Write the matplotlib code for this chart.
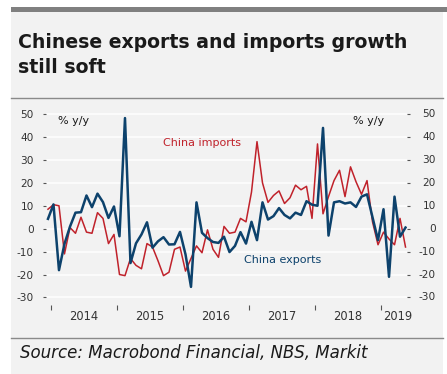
import numpy as np
import matplotlib
matplotlib.use("Agg")
import matplotlib.pyplot as plt
import matplotlib.transforms as mtransforms
from matplotlib.patches import Rectangle
from matplotlib.lines import Line2D

plt.rcParams["axes.unicode_minus"] = False

# monthly y/y growth, Dec 2013 .. May 2019
exports = [4.3,
           10.6, -18.1, -6.6, 0.9, 7.0, 7.2, 14.5, 9.4, 15.3, 11.6, 4.7, 9.7,
           -3.3, 48.3, -15.0, -6.4, -2.5, 2.8, -8.3, -5.5, -3.7, -6.9, -6.8, -1.4,
           -11.2, -25.4, 11.5, -1.8, -4.1, -5.8, -6.2, -3.5, -10.2, -7.5, -1.5, -6.5,
           3.0, -5.0, 11.5, 4.0, 5.5, 9.0, 6.0, 4.5, 7.0, 6.0, 12.0, 10.5,
           10.0, 44.0, -3.0, 11.5, 12.0, 11.0, 11.5, 9.5, 14.0, 15.0, 5.0, -5.0,
           8.5, -21.0, 14.0, -3.5, 0.5]
imports = [8.5,
           10.5, 10.0, -11.0, 0.5, -2.0, 5.0, -1.5, -2.0, 7.0, 4.5, -6.5, -2.5,
           -20.0, -20.5, -13.0, -16.0, -17.5, -6.5, -8.0, -14.0, -20.5, -19.0, -9.0, -8.0,
           -18.5, -13.0, -7.5, -10.5, -0.5, -9.0, -12.5, 1.0, -2.0, -1.5, 4.5, 3.0,
           16.0, 38.0, 20.0, 11.5, 14.5, 16.5, 11.0, 13.5, 19.0, 17.0, 18.5, 4.5,
           37.0, 6.5, 14.0, 21.0, 25.5, 14.0, 27.0, 20.5, 15.0, 21.0, 3.0, -7.0,
           -1.5, -4.5, -7.0, 4.5, -8.0]
years = [2014, 2015, 2016, 2017, 2018, 2019]
yticks = [-30, -20, -10, 0, 10, 20, 30, 40, 50]

# x in months since Jan 2014, points at mid-month
x = np.arange(len(exports)) - 1 + 0.5

W, H = 447, 374
fig = plt.figure(figsize=(W / 100, H / 100), dpi=100)
fig.patch.set_facecolor("white")

def fx(px):
    return px / W

def fy(py):
    return 1 - py / H

# panel background, top bar, separators
fig.patches.append(Rectangle((fx(11), 0), fx(443) - fx(11), fy(12), transform=fig.transFigure,
                             facecolor="#f2f2f2", edgecolor="none", zorder=-2))
fig.patches.append(Rectangle((fx(11), fy(12)), fx(447) - fx(11), fy(7) - fy(12), transform=fig.transFigure,
                             facecolor="#808080", edgecolor="none", zorder=-1))
for yy in (97.5, 337.5):
    fig.lines.append(Line2D([fx(11), fx(443)], [fy(yy), fy(yy)], transform=fig.transFigure,
                            color="#8a8a8a", linewidth=1.0, zorder=-1))

fig.text(fx(18), fy(48), "Chinese exports and imports growth", fontsize=13.6,
         fontweight="bold", color="#1a1a1a", va="baseline")
fig.text(fx(18), fy(73), "still soft", fontsize=13.6,
         fontweight="bold", color="#1a1a1a", va="baseline")
fig.text(fx(20), fy(353), "Source: Macrobond Financial, NBS, Markit", fontsize=12,
         style="italic", color="#1a1a1a", va="center")

ax = fig.add_axes([fx(46), fy(302), fx(407) - fx(46), fy(105) - fy(302)])
ax.set_facecolor("#f2f2f2")
for s in ax.spines.values():
    s.set_visible(False)

ax.set_ylim(-32, 54)
ax.set_xlim(-0.86, 64.77)
ax.set_yticks(yticks)
ax.yaxis.grid(True, color="white", linewidth=1.1)
ax.set_axisbelow(True)

ax.plot(x, imports, color="#c0222b", linewidth=1.1, zorder=3)
ax.plot(x, exports, color="#0d426c", linewidth=1.8, zorder=4)

# y ticks: dashes on both sides, labels on the left via the axis
ax.tick_params(axis="y", left=True, right=True, labelleft=True, labelright=False,
               length=2.2, width=0.8, color="#555555", pad=6.5,
               labelsize=7.6, labelcolor="#333333")
# right-hand labels right-aligned near the panel edge
right_tr = mtransforms.blended_transform_factory(fig.transFigure, ax.transData)
for v in yticks:
    ax.text(fx(436), v, str(v), transform=right_tr, ha="right", va="center",
            fontsize=7.6, color="#333333")

# x axis: year boundary ticks, labels centred in each year
ax.spines["bottom"].set_position(("outward", 2))
xt = [12 * i for i in range(len(years))]
ax.set_xticks(xt)
ax.set_xticklabels([])
ax.tick_params(axis="x", which="major", length=3.5, width=0.8, color="#555555")
centers = [12 * i + 6 for i in range(len(years) - 1)] + [63]
ax.set_xticks(centers, minor=True)
ax.set_xticklabels([str(y) for y in years], minor=True)
ax.tick_params(axis="x", which="minor", length=0, pad=4, labelsize=8.3, labelcolor="#333333")

ax.text(fx(58), fy(121), "% y/y", transform=fig.transFigure, fontsize=8, color="#1a1a1a", va="center")
ax.text(fx(353), fy(121), "% y/y", transform=fig.transFigure, fontsize=8, color="#1a1a1a", va="center")
ax.text(fx(163), fy(143), "China imports", transform=fig.transFigure, fontsize=8, color="#c0222b", va="center")
ax.text(fx(244), fy(260), "China exports", transform=fig.transFigure, fontsize=8, color="#0d426c", va="center")

fig.savefig("out.png", dpi=100)
